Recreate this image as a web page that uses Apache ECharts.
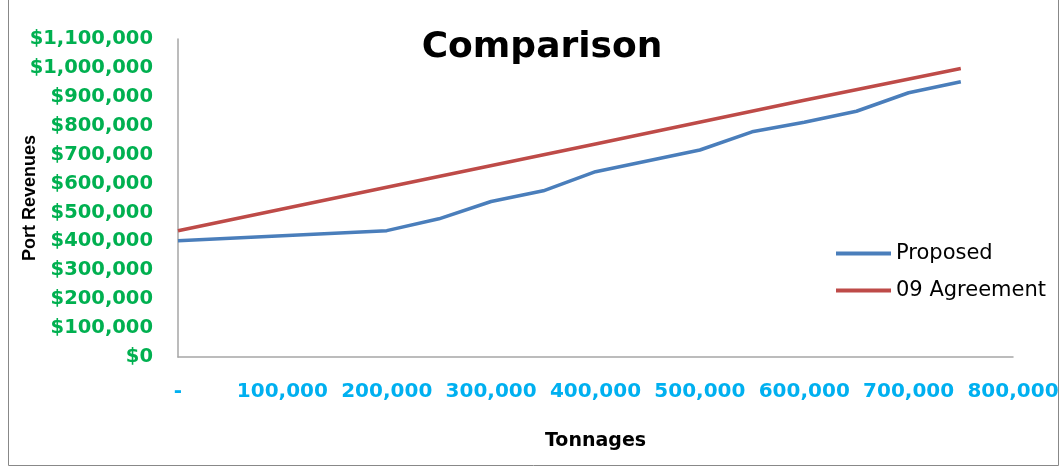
<!DOCTYPE html>
<html>
<head>
<meta charset="utf-8">
<script src="https://cdn.jsdelivr.net/npm/echarts@6/dist/echarts.min.js"></script>
<style>
  html, body { margin: 0; padding: 0; background: #fff; }
  #chart { width: 1063px; height: 468px; }
</style>
</head>
<body>
<div id="chart"></div>
<script>
// x values (tonnages) and revenues
const proposedTonnages = [0, 200000, 250000, 300000, 350000, 400000, 500000, 550000, 600000, 650000, 700000, 750000];
const proposedRevenue = [402000, 437000, 478000, 538000, 575000, 641000, 716000, 779000, 812000, 850000, 914000, 952000];
const agreementTonnages = [0, 200000, 400000, 600000, 750000];
const agreementRevenue = [437000, 587000, 737000, 888000, 998000];
const seriesNames = ['Proposed', '09 Agreement'];

function commas(v) {
	return String(v).replace(/\B(?=(\d{3})+(?!\d))/g, ',');
}

function pairs(xs, ys) {
	return xs.map((x, i) => [x, ys[i]]);
}

const myChart = echarts.init(document.getElementById('chart'));
myChart.setOption({
	animation: false,
	title: {
		text: 'Comparison',
		left: 537,
		top: 25,
		textAlign: 'center',
		textStyle: { fontFamily: 'DejaVu Sans', fontWeight: 'bold', fontSize: 36, color: '#000' }
	},
	legend: {
		orient: 'vertical',
		left: 831,
		top: 238,
		icon: 'rect',
		itemWidth: 55,
		itemHeight: 4,
		itemGap: 16,
		data: seriesNames,
		textStyle: { fontFamily: 'DejaVu Sans', fontSize: 21, color: '#000' }
	},
	graphic: [{
		type: 'polyline',
		shape: { points: [[8.5, 0], [8.5, 465.5], [1058.5, 465.5], [1058.5, 0]] },
		style: { stroke: '#888', lineWidth: 1, fill: null }
	}],
	grid: { left: 178, right: 50, top: 39, bottom: 111, containLabel: false, outerBoundsMode: 'none' },
	xAxis: {
		type: 'value',
		min: 0,
		max: 800000,
		interval: 100000,
		name: 'Tonnages',
		nameLocation: 'middle',
		nameGap: 75,
		nameMoveOverlap: false,
		nameTextStyle: { fontFamily: 'DejaVu Sans', fontWeight: 'bold', fontSize: 19, color: '#000' },
		axisLine: { lineStyle: { color: '#a6a6a6', width: 1.5 } },
		axisTick: { show: false },
		splitLine: { show: false },
		axisLabel: {
			margin: 25,
			fontFamily: 'DejaVu Sans',
			fontWeight: 'bold',
			fontSize: 20,
			color: '#00b0f0',
			formatter: (v) => v === 0 ? '-' : commas(v)
		}
	},
	yAxis: {
		type: 'value',
		min: 0,
		max: 1100000,
		interval: 100000,
		name: 'Port Revenues',
		nameLocation: 'middle',
		nameGap: 139,
		nameMoveOverlap: false,
		nameTextStyle: { fontFamily: 'Liberation Sans', fontWeight: 'bold', fontSize: 18, color: '#000' },
		axisLine: { show: true, lineStyle: { color: '#a6a6a6', width: 1.5 } },
		axisTick: { show: false },
		splitLine: { show: false },
		axisLabel: {
			margin: 25,
			fontFamily: 'DejaVu Sans',
			fontWeight: 'bold',
			fontSize: 19.5,
			color: '#00b050',
			formatter: (v) => '$' + commas(v)
		}
	},
	series: [{
		name: seriesNames[0],
		type: 'line',
		showSymbol: false,
		data: pairs(proposedTonnages, proposedRevenue),
		lineStyle: { color: '#4a7ebb', width: 3.5 },
		itemStyle: { color: '#4a7ebb' }
	}, {
		name: seriesNames[1],
		type: 'line',
		showSymbol: false,
		data: pairs(agreementTonnages, agreementRevenue),
		lineStyle: { color: '#be4b48', width: 3.5 },
		itemStyle: { color: '#be4b48' }
	}]
});
</script>
</body>
</html>
